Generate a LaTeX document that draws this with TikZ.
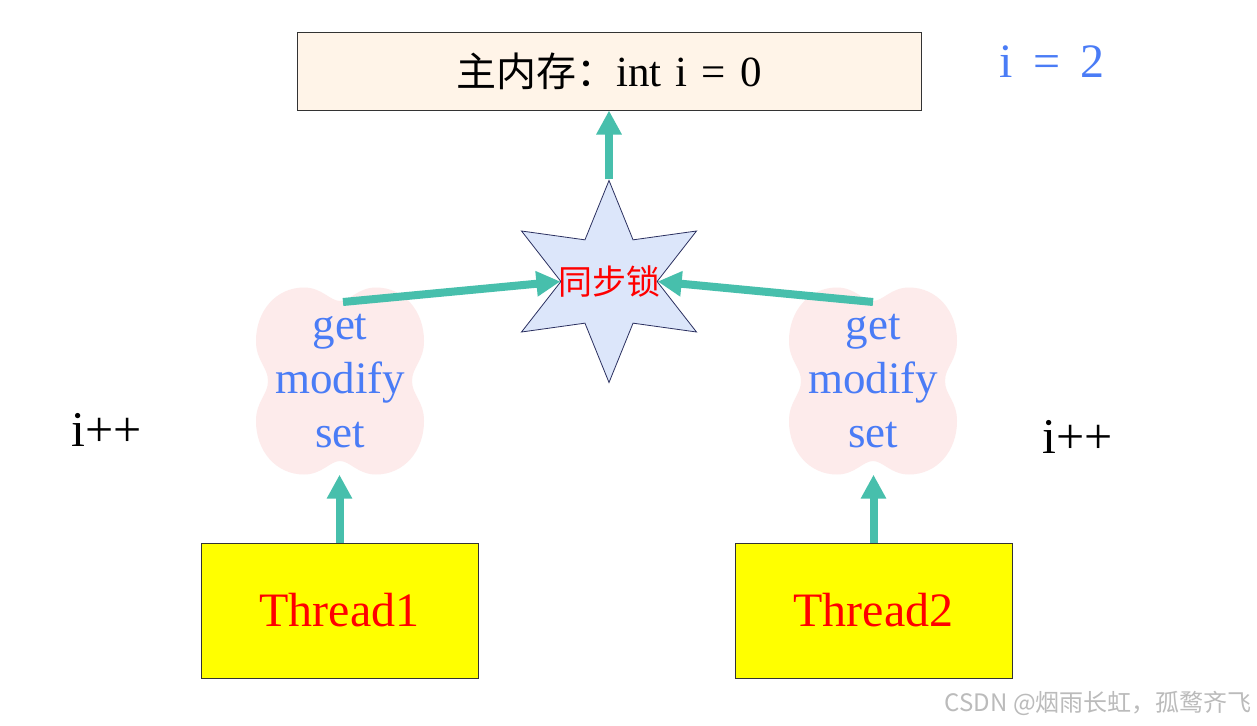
\documentclass[tikz,border=0pt]{standalone}
\usepackage{fontspec}
\setmainfont{Liberation Serif}
\newfontfamily\cjk{Noto Sans CJK SC}
\usetikzlibrary{arrows.meta,shapes.geometric}
\definecolor{teal1}{HTML}{47BFAC}
\definecolor{memfill}{HTML}{FFF4E8}
\definecolor{blobpink}{HTML}{FDEBEB}
\definecolor{starfill}{HTML}{DCE6FA}
\definecolor{starline}{HTML}{2B3060}
\definecolor{txtblue}{HTML}{4A7CF6}
\definecolor{boxline}{HTML}{333333}
\definecolor{wmgray}{HTML}{BBBBBB}
\definecolor{pureyellow}{HTML}{FFFF00}
\definecolor{purered}{HTML}{FF0000}
\tikzset{
  flow/.style={line width=8pt, draw=teal1, -{Triangle[width=24pt,length=24pt]}},
  membox/.style={draw=boxline, line width=1pt, fill=memfill, minimum width=624pt, minimum height=77pt, inner sep=0pt},
  threadbox/.style={draw=boxline, line width=1pt, fill=pureyellow, minimum width=277pt, minimum height=135pt, inner sep=0pt,
     text=purered, font=\fontsize{48}{52}\selectfont},
  blobtext/.style={text=txtblue, align=center, font=\fontsize{45}{54}\selectfont, minimum width=168pt, minimum height=187pt, inner sep=0pt},
  lockstar/.style={star, star points=6, star point ratio=2.1, minimum size=202pt, inner sep=0pt, fill=starfill, draw=starline, line width=0.8pt},
  incr/.style={font=\fontsize{50}{54}\selectfont, inner sep=0pt}
}
\newcommand\blobat[1]{%
  \fill[blobpink, shift={#1}]
    (0,-80) .. controls (10,-80) and (18,-93.5) .. (36,-93.5)
    .. controls (64,-93.5) and (84,-70) .. (84,-40)
    .. controls (84,-20) and (72,-14) .. (72,0)
    .. controls (72,14) and (84,20) .. (84,40)
    .. controls (84,70) and (64,93.5) .. (36,93.5)
    .. controls (18,93.5) and (10,80) .. (0,80)
    .. controls (-10,80) and (-18,93.5) .. (-36,93.5)
    .. controls (-64,93.5) and (-84,70) .. (-84,40)
    .. controls (-84,20) and (-72,14) .. (-72,0)
    .. controls (-72,-14) and (-84,-20) .. (-84,-40)
    .. controls (-84,-70) and (-64,-93.5) .. (-36,-93.5)
    .. controls (-18,-93.5) and (-10,-80) .. (0,-80) -- cycle;}
\begin{document}
\begin{tikzpicture}[x=1pt,y=-1pt]
\useasboundingbox (0,0) rectangle (1257,725);
\fill[white] (0,0) rectangle (1257,725);
% main memory
\node[membox] (mem) at (609,71.5) {\fontsize{40}{48}\selectfont{\cjk 主内存：}{\fontsize{43}{48}\selectfont int\hskip 14pt i\hskip 14pt=\hskip 14pt 0}};
\node[text=txtblue, font=\fontsize{48}{52}\selectfont, inner sep=0pt] (ival) at (1052,62) {i\hskip 20pt=\hskip 20pt 2};
% star lock
\node[lockstar] (lock) at (609,281.5) {};
\node[text=purered, font=\cjk\fontsize{34}{38}\selectfont, inner sep=0pt] (locktxt) at (609,282) {同步锁};
% blobs
\blobat{(340,381)}
\blobat{(873,381)}
\node[blobtext] (b1) at (340,381) {get\\modify\\set};
\node[blobtext] (b2) at (873,381) {get\\modify\\set};
\coordinate (b1top) at (343,302);
\coordinate (b2top) at (873,302);
% i++
\node[incr] (inc1) at (107,430) {i++};
\node[incr] (inc2) at (1078,437) {i++};
% threads
\node[threadbox] (t1) at (339.5,610.5) {Thread1};
\node[threadbox] (t2) at (873.5,610.5) {Thread2};
% arrows
\draw[flow] (t1.north) -- (t1.north |- b1.south);
\draw[flow] (t2.north) -- (t2.north |- b2.south);
\draw[flow] (b1top) -- (lock.west);
\draw[flow] (b2top) -- (lock.east);
\draw[flow] (lock.north) -- (mem.south);
% watermark
\node[anchor=east, text=wmgray, font=\cjk\fontsize{24}{27}\selectfont, inner sep=0pt] (wm) at (1252,703) {CSDN @烟雨长虹，孤鹜齐飞};
\end{tikzpicture}
\end{document}
